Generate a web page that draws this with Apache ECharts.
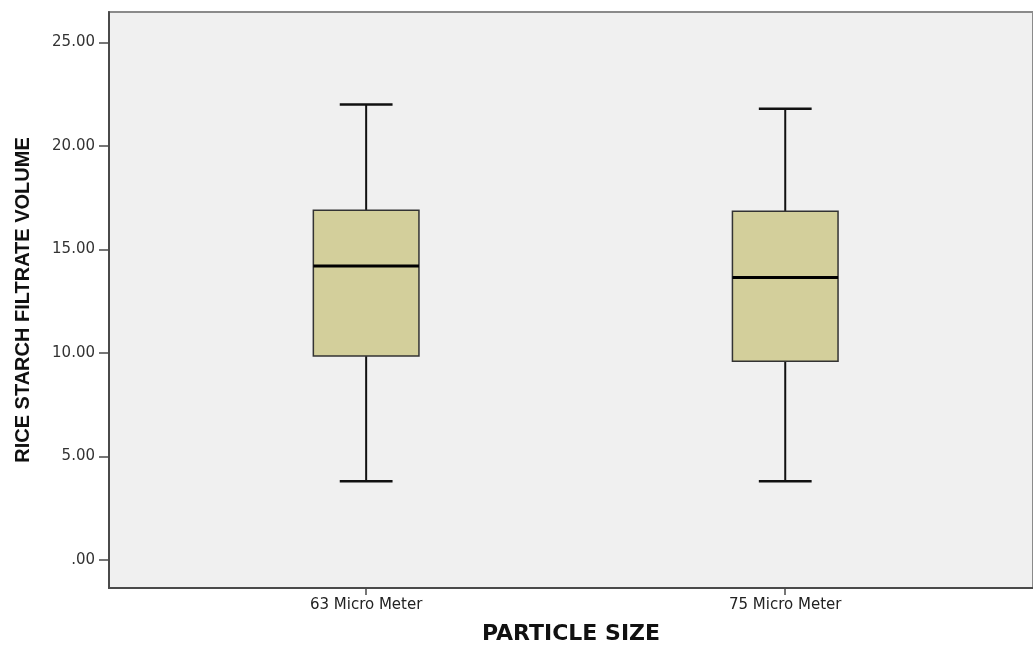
<!DOCTYPE html>
<html>
<head>
<meta charset="utf-8">
<script src="https://cdn.jsdelivr.net/npm/echarts@6/dist/echarts.min.js"></script>
<style>
html,body{margin:0;padding:0;background:#fff;}
#chart{width:1033px;height:650px;}
</style>
</head>
<body>
<div id="chart"></div>
<script>
// ---- data ----
const categories = ['63 Micro Meter', '75 Micro Meter'];
const whiskerLow = [3.8, 3.8];
const q1Values = [9.85, 9.6];
const medianValues = [14.2, 13.65];
const q3Values = [16.9, 16.85];
const whiskerHigh = [22.0, 21.8];
const yTicks = [0, 5, 10, 15, 20, 25];
const xTitle = 'PARTICLE SIZE';
const yTitle = 'RICE STARCH FILTRATE VOLUME';

const boxData = categories.map((c, i) => [i + 1, whiskerLow[i], q1Values[i], medianValues[i], q3Values[i], whiskerHigh[i]]);
const xTickPositions = categories.map((c, i) => i + 1);

const sans = '"Liberation Sans", Arial, sans-serif';
const wide = '"DejaVu Sans", sans-serif';
const chart = echarts.init(document.getElementById('chart'), null, {renderer: 'canvas'});

chart.setOption({
  animation: false,
  backgroundColor: '#ffffff',
  grid: {
    left: 109, right: -2, top: 12, bottom: 60,
    show: true, backgroundColor: '#f0f0f0',
    borderColor: '#8a8a8a', borderWidth: 2
  },
  xAxis: {
    type: 'value',
    min: 0.3864, max: 2.5912,
    splitLine: {show: false},
    axisLine: {show: true, onZero: false, lineStyle: {color: '#4a4a4a', width: 2}},
    axisTick: {show: true, customValues: xTickPositions, length: 7, lineStyle: {color: '#4a4a4a', width: 1.5}},
    axisLabel: {
      customValues: xTickPositions,
      formatter: v => categories[Math.round(v) - 1] || '',
      fontFamily: wide, fontSize: 15, color: '#222', margin: 10
    },
    name: xTitle, nameLocation: 'middle', nameGap: 35,
    nameTextStyle: {fontFamily: wide, fontSize: 22, fontWeight: 'bold', color: '#111'}
  },
  yAxis: {
    type: 'value',
    min: -1.35, max: 26.47,
    splitLine: {show: false},
    axisLine: {show: true, onZero: false, lineStyle: {color: '#4a4a4a', width: 2}},
    axisTick: {show: true, customValues: yTicks, length: 10, lineStyle: {color: '#4a4a4a', width: 1.5}},
    axisLabel: {
      customValues: yTicks,
      formatter: v => v === 0 ? '.00' : v.toFixed(2),
      fontFamily: wide, fontSize: 15, color: '#333', margin: 14
    },
    name: yTitle, nameLocation: 'middle', nameGap: 76, nameRotate: 90,
    nameTextStyle: {fontFamily: sans, fontSize: 20, fontWeight: 'bold', color: '#111'}
  },
  series: [{
    type: 'custom',
    data: boxData,
    encode: {x: 0, y: [1, 2, 3, 4, 5]},
    clip: false,
    renderItem: function (params, api) {
      const x = api.value(0);
      const pMin = api.coord([x, api.value(1)]);
      const pQ1 = api.coord([x, api.value(2)]);
      const pMed = api.coord([x, api.value(3)]);
      const pQ3 = api.coord([x, api.value(4)]);
      const pMax = api.coord([x, api.value(5)]);
      const unit = api.size([1, 0])[0];
      const halfBox = unit * 0.252 / 2;
      const halfCap = unit * 0.126 / 2;
      const cx = pMed[0];
      const lineStyle = {stroke: '#111', lineWidth: 2};
      return {
        type: 'group',
        children: [
          {type: 'line', shape: {x1: cx, y1: pMax[1], x2: cx, y2: pQ3[1]}, style: lineStyle},
          {type: 'line', shape: {x1: cx, y1: pQ1[1], x2: cx, y2: pMin[1]}, style: lineStyle},
          {type: 'line', shape: {x1: cx - halfCap, y1: pMax[1], x2: cx + halfCap, y2: pMax[1]}, style: {stroke: '#111', lineWidth: 2.5}},
          {type: 'line', shape: {x1: cx - halfCap, y1: pMin[1], x2: cx + halfCap, y2: pMin[1]}, style: {stroke: '#111', lineWidth: 2.5}},
          {type: 'rect', shape: {x: cx - halfBox, y: pQ3[1], width: halfBox * 2, height: pQ1[1] - pQ3[1]},
            style: {fill: '#d3cf9b', stroke: '#333', lineWidth: 1.5}},
          {type: 'line', shape: {x1: cx - halfBox, y1: pMed[1], x2: cx + halfBox, y2: pMed[1]}, style: {stroke: '#000', lineWidth: 3}}
        ]
      };
    }
  }]
});
</script>
</body>
</html>
